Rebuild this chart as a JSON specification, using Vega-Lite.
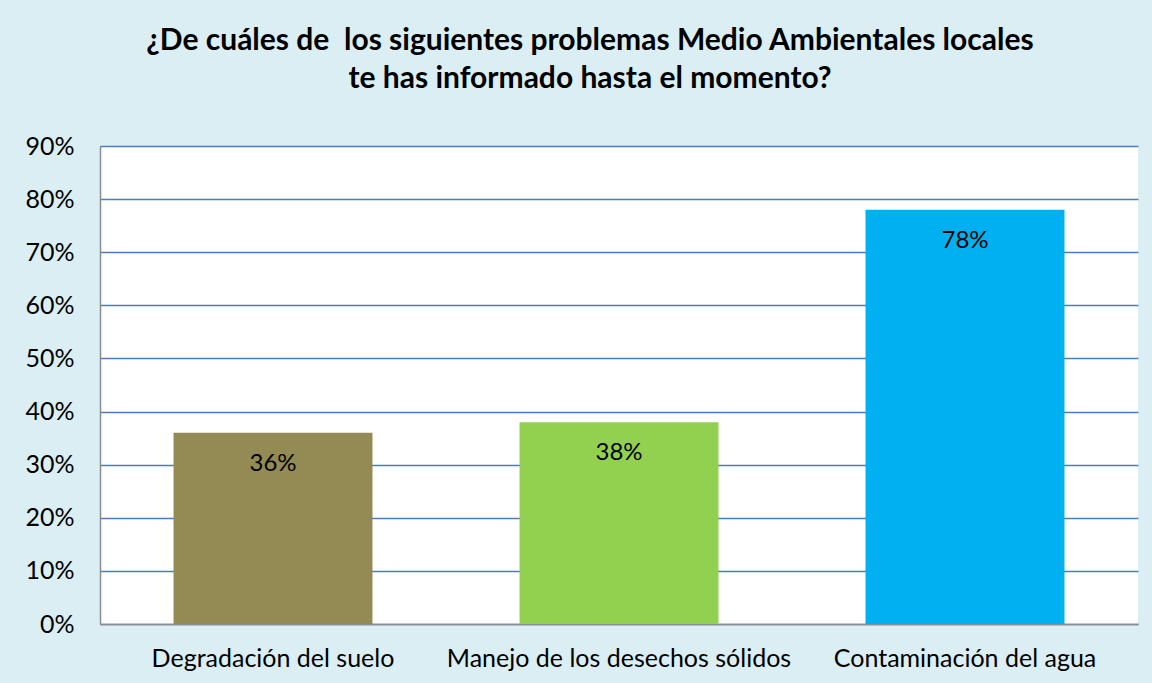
{
  "$schema": "https://vega.github.io/schema/vega-lite/v6.json",
  "width": 1038,
  "height": 478,
  "autosize": {"type": "none"},
  "padding": {"left": 100, "top": 146, "right": 14, "bottom": 59},
  "background": "#DAEEF3",
  "title": {
    "text": ["¿De cuáles de\u00a0 los siguientes problemas Medio Ambientales locales", "te has informado hasta el momento?"],
    "font": "Lato",
    "fontSize": 30,
    "fontWeight": "bold",
    "color": "#000000",
    "anchor": "middle",
    "dx": -29,
    "offset": 40,
    "lineHeight": 38
  },
  "data": {
    "values": [
      {"problema": "Degradación del suelo", "valor": 0.36},
      {"problema": "Manejo de los desechos sólidos", "valor": 0.38},
      {"problema": "Contaminación del agua", "valor": 0.78}
    ]
  },
  "encoding": {
    "x": {
      "field": "problema",
      "type": "nominal",
      "sort": null,
      "scale": {"paddingInner": 0.425, "paddingOuter": 0.2125},
      "axis": {
        "title": null,
        "labelAngle": 0,
        "labelFont": "Lato",
        "labelFontSize": 25,
        "labelLimit": 400,
        "labelColor": "#000000",
        "labelPadding": 22,
        "ticks": false,
        "domainColor": "#8C8C8C",
        "domainWidth": 1.5,
        "grid": false
      }
    },
    "y": {
      "field": "valor",
      "type": "quantitative",
      "scale": {"domain": [0, 0.9]},
      "axis": {
        "title": null,
        "format": ".0%",
        "values": [0, 0.1, 0.2, 0.3, 0.4, 0.5, 0.6, 0.7, 0.8, 0.9],
        "labelFont": "Lato",
        "labelFontSize": 25,
        "labelColor": "#000000",
        "labelPadding": 26,
        "ticks": false,
        "domainColor": "#8C8C8C",
        "domainWidth": 1.5,
        "grid": true,
        "gridColor": "#4A7EBB",
        "gridWidth": 1.5
      }
    }
  },
  "layer": [
    {
      "mark": {"type": "bar"},
      "encoding": {
        "color": {
          "field": "problema",
          "type": "nominal",
          "scale": {
            "domain": ["Degradación del suelo", "Manejo de los desechos sólidos", "Contaminación del agua"],
            "range": ["#948A54", "#92D050", "#00B0F0"]
          },
          "legend": null
        }
      }
    },
    {
      "mark": {"type": "text", "font": "Lato", "fontSize": 24, "color": "#000000", "baseline": "middle", "dy": 31},
      "encoding": {
        "text": {"field": "valor", "type": "quantitative", "format": ".0%"}
      }
    }
  ],
  "config": {
    "view": {"stroke": null, "fill": "#FFFFFF"}
  }
}
